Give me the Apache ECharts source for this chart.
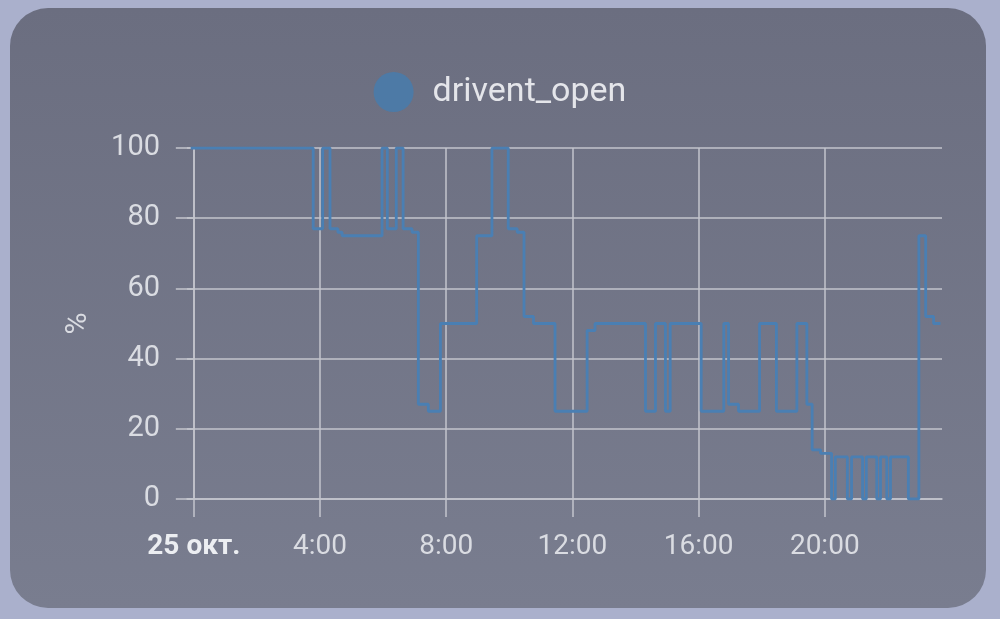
<!DOCTYPE html>
<html>
<head>
<meta charset="utf-8">
<script src="https://cdn.jsdelivr.net/npm/echarts@6/dist/echarts.min.js"></script>
<style>
html,body{margin:0;padding:0;background:#aab0cc;}
#c{width:1000px;height:619px;}
</style>
</head>
<body>
<div id="c"></div>
<script>
// minutes since 25 Oct 00:00 at which the value changes
const timesMin = [-6, 227, 245, 259, 274, 282, 358, 368, 385, 398, 415, 427, 446, 469, 538, 567, 598, 615, 628, 646, 687, 748, 763, 859, 878, 897, 906, 965, 1008, 1017, 1036, 1076, 1108, 1147, 1166, 1176, 1192, 1213, 1220, 1243, 1251, 1272, 1279, 1299, 1306, 1318, 1325, 1359, 1379, 1392, 1407, 1420];
const values = [100, 77, 100, 77, 76, 75, 100, 77, 100, 77, 76, 27, 25, 50, 75, 100, 77, 76, 52, 50, 25, 48, 50, 25, 50, 25, 50, 25, 50, 27, 25, 50, 25, 50, 27, 14, 13, 0, 12, 0, 12, 0, 12, 0, 12, 0, 12, 0, 75, 52, 50, 50];
const xTickMinutes = [0, 240, 480, 720, 960, 1200];
const dayLabel = '25 окт.';
const seriesName = 'drivent_open';
const yTicks = [0, 20, 40, 60, 80, 100];

const data = timesMin.map((t, i) => [t, values[i]]);
const chart = echarts.init(document.getElementById('c'), null, {renderer: 'canvas'});
const gridColor = '#c3c5cd';
const textColor = '#dadce2';
const font = 'Roboto, "Liberation Sans", sans-serif';

chart.setOption({
  backgroundColor: '#aab0cc',
  animation: false,
  graphic: [{
    type: 'rect', z: -10, silent: true,
    shape: {x: 10, y: 8, width: 976, height: 600, r: 38},
    style: {fill: new echarts.graphic.LinearGradient(0, 0, 0, 1, [
      {offset: 0, color: '#6b6e80'}, {offset: 1, color: '#797d8f'}])}
  }],
  legend: {
    data: [seriesName],
    top: 72, left: 'center', padding: 0,
    icon: 'circle', itemWidth: 40, itemHeight: 40,
    textStyle: {color: '#e4e5ea', fontSize: 34, fontFamily: font, padding: [0, 0, 0, 14]}
  },
  grid: {left: 187, right: 58, top: 148, bottom: 120},
  xAxis: {
    type: 'value', min: -13, max: 1423, minInterval: 240, maxInterval: 240,
    axisLine: {show: true, lineStyle: {color: gridColor, width: 1.5}},
    axisTick: {show: true, customValues: xTickMinutes, length: 18, lineStyle: {color: gridColor, width: 1.5}},
    splitLine: {show: true, lineStyle: {color: gridColor, width: 1.5}},
    axisLabel: {
      customValues: xTickMinutes,
      margin: 34, color: textColor, fontSize: 28, fontFamily: font,
      formatter: v => {
        if (v === 0) return '{b|' + dayLabel + '}';
        if (xTickMinutes.indexOf(v) < 0) return '';
        return (v / 60) + ':00';
      },
      rich: {b: {fontWeight: 'bold', color: '#eceef2', fontSize: 28, fontFamily: font}}
    }
  },
  yAxis: {
    type: 'value', min: 0, max: 100, interval: 20,
    name: '%', nameLocation: 'middle', nameGap: 94, nameRotate: 90,
    nameTextStyle: {color: textColor, fontSize: 30, fontFamily: font},
    axisLine: {show: true, lineStyle: {color: gridColor, width: 1.5}},
    axisTick: {show: true, length: 18, lineStyle: {color: gridColor, width: 1.5}},
    splitLine: {show: true, lineStyle: {color: gridColor, width: 1.5}},
    axisLabel: {margin: 27, color: textColor, fontSize: 29, fontFamily: font}
  },
  series: [{
    name: seriesName, type: 'line', step: 'end', data: data,
    showSymbol: false, symbol: 'none',
    lineStyle: {color: '#4a7fb3', width: 2.8},
    itemStyle: {color: '#4d7aa6'}
  }]
});
</script>
</body>
</html>
